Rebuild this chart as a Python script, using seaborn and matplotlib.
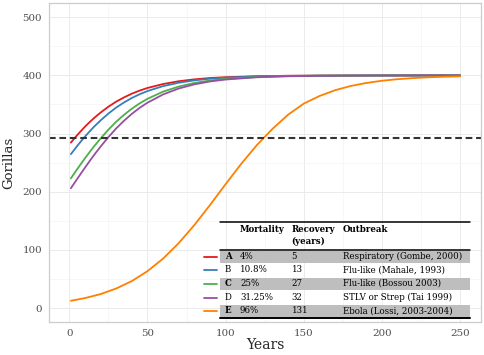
import matplotlib
matplotlib.use("Agg")
import matplotlib.pyplot as plt
from matplotlib.patches import Rectangle
from matplotlib.lines import Line2D
import numpy as np
import pandas as pd
import seaborn as sns

# values
years = [1, 3, 5, 8, 10, 13, 16, 20, 25, 30, 35, 40, 45, 50, 60, 70, 80, 90, 100,
         120, 140, 160, 200, 250]
gorillas_a = [284.5, 290.9, 297.2, 306.0, 311.8, 319.7, 327.1, 336.1, 346.2, 354.9,
              362.2, 368.6, 373.9, 378.4, 385.2, 390.0, 393.2, 395.5, 396.9,
              398.6, 399.4, 399.7, 399.9, 400.0]
gorillas_b = [264.6, 271.6, 278.6, 288.4, 294.8, 303.7, 312.3, 322.6, 334.4, 344.8,
              353.5, 361.2, 367.6, 373.1, 381.6, 387.4, 391.5, 394.3, 396.1,
              398.3, 399.2, 399.6, 399.9, 400.0]
gorillas_c = [223.0, 230.8, 238.6, 250.0, 257.4, 268.2, 278.6, 291.5, 306.7, 320.4,
              332.2, 342.8, 351.9, 359.7, 372.1, 380.8, 387.0, 391.2, 394.0,
              397.3, 398.8, 399.5, 399.9, 400.0]
gorillas_d = [206.0, 213.9, 221.9, 233.6, 241.3, 252.7, 263.7, 277.6, 293.9, 308.9,
              322.1, 333.9, 344.2, 353.1, 367.3, 377.5, 384.6, 389.6, 392.9,
              396.8, 398.6, 399.3, 399.9, 400.0]

years_e = [1, 10, 20, 30, 40, 50, 60, 70, 80, 90, 100, 110, 120, 130, 140, 150,
           160, 170, 180, 190, 200, 210, 220, 230, 240, 250]
gorillas_e = [12.5, 17.1, 24.0, 33.6, 46.4, 63.4, 85.0, 111.6, 142.7, 177.1, 213.0,
              248.0, 280.2, 308.1, 332.5, 351.5, 364.5, 374.5, 381.8, 387.0, 390.8,
              393.5, 395.4, 396.8, 397.7, 398.4]

threshold = 293

scenarios = ["A", "B", "C", "D", "E"]
mortality = ["4%", "10.8%", "25%", "31.25%", "96%"]
recovery = ["5", "13", "27", "32", "131"]
outbreak = ["Respiratory (Gombe, 2000)", "Flu-like (Mahale, 1993)",
            "Flu-like (Bossou 2003)", "STLV or Strep (Tai 1999)",
            "Ebola (Lossi, 2003-2004)"]
colors = ["#E41A1C", "#377EB8", "#4DAF4A", "#984EA3", "#FF7F00"]

frames = []
for name, ys in zip(scenarios[:4], [gorillas_a, gorillas_b, gorillas_c, gorillas_d]):
    frames.append(pd.DataFrame({"year": years, "gorillas": ys, "scenario": name}))
frames.append(pd.DataFrame({"year": years_e, "gorillas": gorillas_e, "scenario": "E"}))
df = pd.concat(frames, ignore_index=True)

sns.set_theme(style="whitegrid")
plt.rcParams["font.family"] = ["DejaVu Serif"]

W, H = 484, 355
fig = plt.figure(figsize=(W / 100, H / 100), dpi=100)
L, R, T, B = 49, 481, 3, 322
ax = fig.add_axes([L / W, 1 - B / H, (R - L) / W, (B - T) / H])

sns.lineplot(data=df, x="year", y="gorillas", hue="scenario",
             palette=dict(zip(scenarios, colors)), linewidth=1.3,
             legend=False, ax=ax, sort=False, estimator=None)
ax.axhline(threshold, color="#333333", lw=1.5, ls=(0, (3.2, 1.8)))

ax.set_xlim(-13, 263.4)
ax.set_ylim(-24, 524.5)
ax.set_xticks([0, 50, 100, 150, 200, 250])
ax.set_xticks([25, 75, 125, 175, 225], minor=True)
ax.set_yticks([0, 100, 200, 300, 400, 500])
ax.set_yticks([50, 150, 250, 350, 450], minor=True)
ax.grid(which="major", color="#ebebeb", lw=0.7)
ax.grid(which="minor", color="#f4f4f4", lw=0.5)
for s in ax.spines.values():
    s.set_color("#cccccc")
    s.set_linewidth(0.9)
ax.tick_params(axis="both", which="major", length=3, width=0.6, color="#999999",
               labelsize=7.4, labelcolor="#4d4d4d", pad=2)
ax.tick_params(which="minor", length=0)
ax.set_xlabel("Years", fontsize=10, labelpad=0)
ax.set_ylabel("Gorillas", fontsize=9.5, labelpad=5)


# table, placed in figure pixels
def fx(px):
    return px / W


def fy(py):
    return 1 - py / H


tl, tr = 220, 470
col_x = [225, 240, 291.7, 343]
fs = 6.2
fig.add_artist(Line2D([fx(tl), fx(tr)], [fy(221.7)] * 2, color="black", lw=1.1))
fig.add_artist(Line2D([fx(tl), fx(tr)], [fy(249.5)] * 2, color="black", lw=1.1))
fig.text(fx(col_x[1]), fy(230), "Mortality", fontsize=fs, fontweight="bold",
         va="center", ha="left", color="black")
fig.text(fx(col_x[2]), fy(230), "Recovery", fontsize=fs, fontweight="bold",
         va="center", ha="left", color="black")
fig.text(fx(col_x[2]), fy(241.5), "(years)", fontsize=fs, fontweight="bold",
         va="center", ha="left", color="black")
fig.text(fx(col_x[3]), fy(230), "Outbreak", fontsize=fs, fontweight="bold",
         va="center", ha="left", color="black")

row_top, row_h = 250, 13.6
for i, name in enumerate(scenarios):
    top = row_top + i * row_h
    cy = top + row_h / 2 - 0.5
    if i % 2 == 0:
        fig.add_artist(Rectangle((fx(tl), fy(top + 12.6)), fx(tr) - fx(tl),
                                 fy(top + 0.6) - fy(top + 12.6),
                                 facecolor="#bebebe", edgecolor="none"))
    fig.add_artist(Line2D([fx(204), fx(216.5)], [fy(cy + 0.5)] * 2,
                          color=colors[i], lw=1.3))
    weight = "bold" if i % 2 == 0 else "normal"
    fig.text(fx(col_x[0]), fy(cy), name, fontsize=fs, fontweight=weight,
             va="center", ha="left", color="black")
    fig.text(fx(col_x[1]), fy(cy), mortality[i], fontsize=fs, va="center",
             ha="left", color="black")
    fig.text(fx(col_x[2]), fy(cy), recovery[i], fontsize=fs, va="center",
             ha="left", color="black")
    fig.text(fx(col_x[3]), fy(cy), outbreak[i], fontsize=fs, va="center",
             ha="left", color="black")
fig.add_artist(Line2D([fx(tl), fx(tr)], [fy(317.5)] * 2, color="black", lw=1.4))

fig.savefig("out.png", dpi=100)
